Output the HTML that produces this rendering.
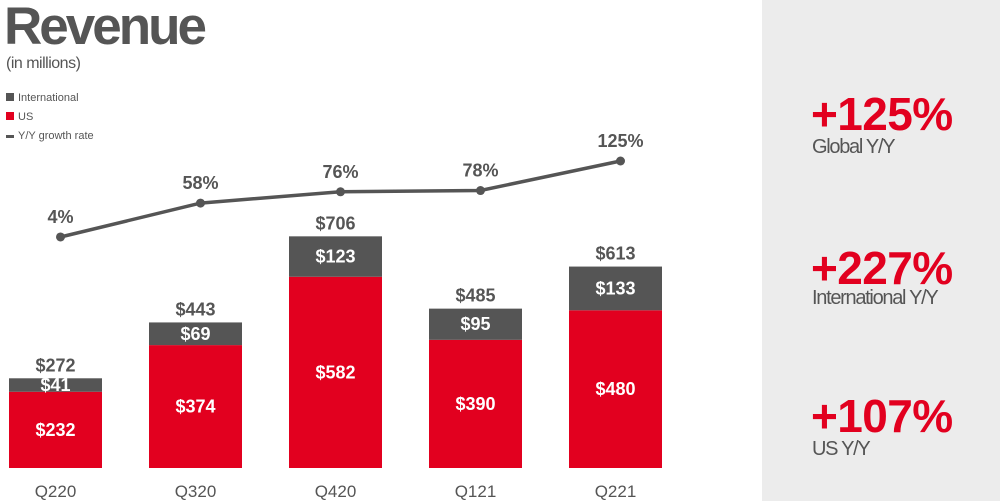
<!DOCTYPE html>
<html><head><meta charset="utf-8"><style>
body{margin:0;width:1000px;height:501px;overflow:hidden;background:#fff;font-family:"Liberation Sans",sans-serif;position:relative}
.abs{position:absolute}
.big{color:#e2001f;font-weight:bold;font-size:46px;letter-spacing:-0.6px;line-height:1}
.sub{color:#555;font-size:20px;letter-spacing:-1.3px;line-height:1}
</style></head><body>
<div class="abs" style="left:4px;top:-4px;font-size:53px;font-weight:bold;color:#555;letter-spacing:-3px">Revenue</div>
<div class="abs" style="left:6px;top:55px;font-size:16px;color:#555;letter-spacing:-0.5px">(in millions)</div>
<div class="abs" style="left:6px;top:89px;font-size:11px;color:#555;line-height:19px">
<div><span style="display:inline-block;width:8px;height:8px;background:#555;margin-right:4px"></span>International</div>
<div><span style="display:inline-block;width:8px;height:8px;background:#e2001f;margin-right:4px"></span>US</div>
<div><span style="display:inline-block;width:8px;height:3px;background:#555;margin-right:4px;vertical-align:middle"></span>Y/Y growth rate</div>
</div>
<div class="abs" style="left:762px;top:0;width:238px;height:501px;background:#ececec"></div>
<div class="abs big" style="left:811px;top:91px">+125%</div>
<div class="abs sub" style="left:812px;top:137px">Global Y/Y</div>
<div class="abs big" style="left:811px;top:245px">+227%</div>
<div class="abs sub" style="left:812px;top:288px">International Y/Y</div>
<div class="abs big" style="left:811px;top:393px">+107%</div>
<div class="abs sub" style="left:812px;top:439px">US Y/Y</div>
<svg class="abs" style="left:0;top:0" width="760" height="501" id="chart"></svg>
<script>
const categories=["Q220","Q320","Q420","Q121","Q221"];
const usValues=[232,374,582,390,480];
const intlValues=[41,69,123,95,133];
const totals=[272,443,706,485,613];
const growth=[4,58,76,78,125];
const svg=document.getElementById('chart');
const NS='http://www.w3.org/2000/svg';
const base=468,scale=0.3286;
const xc=i=>55.5+i*140;
const yv=v=>base-v*scale;
const yg=g=>239.5-g*0.628;
function mk(t,a,txt){const e=document.createElementNS(NS,t);for(const k in a)e.setAttribute(k,a[k]);if(txt!==undefined)e.textContent=txt;svg.appendChild(e);return e;}
categories.forEach((c,i)=>{
 const x=xc(i)-46.5,us=usValues[i],it=intlValues[i];
 let r=mk('rect',{x:x,y:yv(us),width:93,height:us*scale,fill:'#e2001f'});
 
 
 r=mk('rect',{x:x,y:yv(us+it),width:93,height:it*scale,fill:'#555'});
 
 
 let t=mk('text',{x:xc(i),y:(yv(us)+base)/2+6,'text-anchor':'middle',fill:'#fff','font-size':18,'font-weight':'bold'},'$'+us);
 
 
 t=mk('text',{x:xc(i),y:(yv(us)+yv(us+it))/2+6,'text-anchor':'middle',fill:'#fff','font-size':18,'font-weight':'bold'},'$'+it);
 
 
 t=mk('text',{x:xc(i),y:yv(us+it)-7,'text-anchor':'middle',fill:'#555','font-size':18,'font-weight':'bold'},'$'+totals[i]);
 
 
 t=mk('text',{x:xc(i),y:497,'text-anchor':'middle',fill:'#555','font-size':17},c);
 
 
});
const gx=i=>xc(i)+5;
const l=mk('polyline',{points:growth.map((g,i)=>gx(i)+','+yg(g)).join(' '),fill:'none',stroke:'#555','stroke-width':3.5});


growth.forEach((g,i)=>{
 const p=mk('circle',{cx:gx(i),cy:yg(g),r:4.5,fill:'#555'});
 
 
 const t=mk('text',{x:gx(i),y:yg(g)-14,'text-anchor':'middle',fill:'#555','font-size':18,'font-weight':'bold'},g+'%');
 
 
});
</script>
</body></html>
